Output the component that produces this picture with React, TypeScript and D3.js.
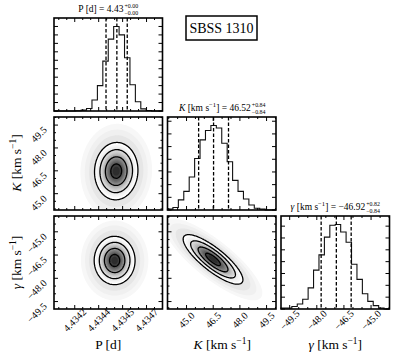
import { useEffect, useRef } from "react";
import * as d3 from "d3";

const WIDTH = 411;
const HEIGHT = 357;
const FONT = "'Liberation Serif', 'Times New Roman', serif";

// panel grid
const COL_X = [54, 167.5, 281];
const ROW_Y = [18, 117, 216];
const PANEL_W = 108.5;
const PANEL_H = 93;

// axis ranges
const P_RANGE = [4.43407, 4.43475];
const K_RANGE = [43.93, 50.03];
const G_RANGE = [-49.98, -43.98];

// ticks
const P_TICKS = [4.4342, 4.43435, 4.4345, 4.43465];
const P_TICK_LABELS = ["4.4342", "4.4344", "4.4345", "4.4347"];
const K_TICKS = [45.0, 46.5, 48.0, 49.5];
const K_TICK_LABELS = ["45.0", "46.5", "48.0", "49.5"];
const G_TICKS = [-49.5, -48.0, -46.5, -45.0];
const G_TICK_LABELS = ["−49.5", "−48.0", "−46.5", "−45.0"];
const MINOR_STEPS = [0.00005, 0.5, 0.5];

// marginal histograms, 20 bins, height relative to the tallest bin
const P_HIST = [0, 0, 0, 0, 0.003, 0.01, 0.03, 0.13, 0.3, 0.59, 0.85, 1.0, 0.9, 0.63, 0.31, 0.11, 0.025, 0.006, 0, 0];
const K_HIST = [0.01, 0.03, 0.12, 0.22, 0.39, 0.61, 0.83, 0.94, 1.0, 0.97, 0.79, 0.57, 0.35, 0.22, 0.13, 0.06, 0.02, 0.01, 0, 0];
const G_HIST = [0.01, 0.01, 0.03, 0.06, 0.115, 0.25, 0.46, 0.64, 0.85, 0.99, 1.0, 0.91, 0.79, 0.53, 0.35, 0.18, 0.09, 0.04, 0.01, 0];
const HIST_TICK_STEP = [0.1, 0.15, 0.14];

// 16th / 50th / 84th percentiles
const P_QUANT = [4.434396, 4.434464, 4.434529];
const K_QUANT = [45.68, 46.52, 47.36];
const G_QUANT = [-47.76, -46.92, -46.1];

// 2-d panels: centre, spread and correlation of the contour ellipses
const PK_CENTER = [4.43446, 46.48];
const PK_SPREAD = [0.000068, 0.94];
const PK_RHO = 0.03;
const PG_CENTER = [4.43445, -46.85];
const PG_SPREAD = [0.000064, 0.78];
const PG_RHO = 0.0;
const KG_CENTER = [46.49, -46.78];
const KG_SPREAD = [0.84, 0.8];
const KG_RHO = -0.82;
const SIGMA_LEVELS = [0.5, 1, 1.5, 2];
const HALO_LEVELS = [3.3, 2.9, 2.5];
const HALO_COLORS = ["#f7f7f7", "#f0f0f0", "#e6e6e6"];

const PARAMS = [
  {
    range: P_RANGE, ticks: P_TICKS, tickLabels: P_TICK_LABELS, hist: P_HIST, quant: P_QUANT,
    title: [{ t: "P [d] = 4.43" }], sup: "+0.00", sub: "−0.00",
    label: [{ t: "P [d]" }],
  },
  {
    range: K_RANGE, ticks: K_TICKS, tickLabels: K_TICK_LABELS, hist: K_HIST, quant: K_QUANT,
    title: [{ t: "K", it: true }, { t: " [km s" }, { t: "−1", sup: true }, { t: "] = 46.52" }], sup: "+0.84", sub: "−0.84",
    label: [{ t: "K", it: true }, { t: " [km s" }, { t: "−1", sup: true }, { t: "]" }],
  },
  {
    range: G_RANGE, ticks: G_TICKS, tickLabels: G_TICK_LABELS, hist: G_HIST, quant: G_QUANT,
    title: [{ t: "γ", it: true }, { t: " [km s" }, { t: "−1", sup: true }, { t: "] = −46.92" }], sup: "+0.82", sub: "−0.84",
    label: [{ t: "γ", it: true }, { t: " [km s" }, { t: "−1", sup: true }, { t: "]" }],
  },
];

const BLOBS = [
  { row: 1, col: 0, center: PK_CENTER, spread: PK_SPREAD, rho: PK_RHO },
  { row: 2, col: 0, center: PG_CENTER, spread: PG_SPREAD, rho: PG_RHO },
  { row: 2, col: 1, center: KG_CENTER, spread: KG_SPREAD, rho: KG_RHO },
];

function rich(parent, pieces, size) {
  const t = parent.append("text").attr("font-size", size).attr("fill", "#000")
    .style("font-family", FONT).style("white-space", "pre");
  let shifted = false;
  pieces.forEach((p) => {
    const ts = t.append("tspan").text(p.t);
    if (p.it) ts.attr("font-style", "italic");
    if (p.sup) {
      ts.attr("font-size", size * 0.7).attr("dy", -size * 0.38);
      shifted = true;
    } else if (shifted) {
      ts.attr("dy", size * 0.38);
      shifted = false;
    }
  });
  return t;
}

function drawTicks(g, xs, ys, x0, y0, xMajor, xMinor, yMajor, yMinor) {
  const x1 = x0 + PANEL_W, y1 = y0 + PANEL_H;
  const seg = [];
  xMajor.forEach((v) => { const x = xs(v); seg.push([x, y1, x, y1 - 4], [x, y0, x, y0 + 4]); });
  xMinor.forEach((v) => { const x = xs(v); seg.push([x, y1, x, y1 - 2], [x, y0, x, y0 + 2]); });
  yMajor.forEach((v) => { const y = ys(v); seg.push([x0, y, x0 + 4, y], [x1, y, x1 - 4, y]); });
  yMinor.forEach((v) => { const y = ys(v); seg.push([x0, y, x0 + 2, y], [x1, y, x1 - 2, y]); });
  g.append("g").selectAll("line").data(seg).join("line")
    .attr("x1", (d) => d[0]).attr("y1", (d) => d[1]).attr("x2", (d) => d[2]).attr("y2", (d) => d[3])
    .attr("stroke", "#000").attr("stroke-width", 1);
}

function minorTicks(range, step, majors) {
  const start = Math.ceil(range[0] / step - 1e-9);
  const end = Math.floor(range[1] / step + 1e-9);
  return d3.range(start, end + 1).map((k) => k * step)
    .filter((v) => !majors.some((m) => Math.abs(m - v) < step * 0.01));
}

function CornerPlot() {
  const svgRef = useRef(null);

  useEffect(() => {
    const svg = d3.select(svgRef.current);
    svg.selectAll("*").remove();
    svg.append("rect").attr("width", WIDTH).attr("height", HEIGHT).attr("fill", "#fff");
    const root = svg.append("g").style("font-family", FONT).attr("fill", "#000");
    const defs = root.append("defs");

    const xScaleOf = (j) => d3.scaleLinear().domain(PARAMS[j].range).range([COL_X[j], COL_X[j] + PANEL_W]);
    const yScaleOf = (i) => d3.scaleLinear().domain(PARAMS[i].range).range([ROW_Y[i] + PANEL_H, ROW_Y[i]]);

    // 2-d density panels
    BLOBS.forEach((b, bi) => {
      const xs = xScaleOf(b.col);
      const ys = yScaleOf(b.row);
      const x0 = COL_X[b.col], y0 = ROW_Y[b.row];
      const N = 100;
      const values = new Array(N * N);
      for (let iy = 0; iy < N; iy++) {
        for (let ix = 0; ix < N; ix++) {
          const dx = xs.invert(x0 + ((ix + 0.5) * PANEL_W) / N);
          const dy = ys.invert(y0 + ((iy + 0.5) * PANEL_H) / N);
          const u = (dx - b.center[0]) / b.spread[0];
          const v = (dy - b.center[1]) / b.spread[1];
          const r2 = (u * u - 2 * b.rho * u * v + v * v) / (1 - b.rho * b.rho);
          values[iy * N + ix] = Math.exp(-r2 / 2);
        }
      }
      const proj = d3.geoTransform({
        point(x, y) { this.stream.point(x0 + (x * PANEL_W) / N, y0 + (y * PANEL_H) / N); },
      });
      const path = d3.geoPath(proj);
      const clipId = `clip${bi}`;
      defs.append("clipPath").attr("id", clipId).append("rect")
        .attr("x", x0).attr("y", y0).attr("width", PANEL_W).attr("height", PANEL_H);
      const g = root.append("g").attr("clip-path", `url(#${clipId})`);

      const toT = (r) => Math.exp(-(r * r) / 2);
      const tOuter = toT(2);
      const nBands = 18;
      const bandTs = d3.range(nBands).map((k) => tOuter + ((1 - tOuter) * k) / nBands);
      const shade = d3.scaleLinear().domain([tOuter, 1]).range([0.0, 0.88]);
      const fills = [
        ...HALO_LEVELS.map((r, k) => ({ t: toT(r), c: HALO_COLORS[k] })),
        ...bandTs.map((t, k) => ({ t, c: d3.interpolateGreys(shade(k === 0 ? tOuter : t + (1 - tOuter) / nBands / 2)) })),
      ];
      const gen = d3.contours().size([N, N]);
      fills.forEach((f) => {
        g.append("path").attr("d", path(gen.contour(values, f.t))).attr("fill", f.c).attr("stroke", "none");
      });
      SIGMA_LEVELS.forEach((r) => {
        g.append("path").attr("d", path(gen.contour(values, toT(r))))
          .attr("fill", "none").attr("stroke", "#000").attr("stroke-width", 1.3).attr("stroke-linejoin", "round");
      });
    });

    // marginal histograms
    PARAMS.forEach((p, i) => {
      const xs = xScaleOf(i);
      const x0 = COL_X[i], y0 = ROW_Y[i];
      const ys = d3.scaleLinear().domain([0, 1.1]).range([y0 + PANEL_H, y0]);
      const edges = d3.range(p.hist.length + 1).map((k) => p.range[0] + ((p.range[1] - p.range[0]) * k) / p.hist.length);
      const pts = [[edges[0], 0]];
      p.hist.forEach((h, k) => pts.push([edges[k], h]));
      pts.push([edges[edges.length - 1], p.hist[p.hist.length - 1]]);
      pts.push([edges[edges.length - 1], 0]);
      const line = d3.line().x((d) => xs(d[0])).y((d) => ys(d[1])).curve(d3.curveStepAfter);
      root.append("path").attr("d", line(pts)).attr("fill", "none").attr("stroke", "#111").attr("stroke-width", 1.1);
      root.append("g").selectAll("line").data(p.quant).join("line")
        .attr("x1", (d) => xs(d)).attr("x2", (d) => xs(d))
        .attr("y1", y0).attr("y2", y0 + PANEL_H)
        .attr("stroke", "#000").attr("stroke-width", 1.3).attr("stroke-dasharray", "3.5,2");

      const yt = d3.range(0, 1.1, HIST_TICK_STEP[i]);
      drawTicks(root, xs, ys, x0, y0, p.ticks, minorTicks(p.range, MINOR_STEPS[i], p.ticks), yt, []);
      root.append("rect").attr("x", x0).attr("y", y0).attr("width", PANEL_W).attr("height", PANEL_H)
        .attr("fill", "none").attr("stroke", "#000").attr("stroke-width", 1.6);

      // title with stacked errors
      const size = 9.5;
      const grp = root.append("g");
      const main = rich(grp, p.title, size);
      const bb = main.node().getBBox();
      const sx = bb.x + bb.width + 0.8;
      grp.append("text").attr("x", sx).attr("y", -size * 0.4).attr("font-size", size * 0.62)
        .attr("fill", "#000").style("font-family", FONT).text(p.sup);
      grp.append("text").attr("x", sx).attr("y", size * 0.3).attr("font-size", size * 0.62)
        .attr("fill", "#000").style("font-family", FONT).text(p.sub);
      const b2 = grp.node().getBBox();
      grp.attr("transform", `translate(${x0 + PANEL_W / 2 - (b2.x + b2.width / 2)},${y0 - 6})`);
    });

    // 2-d panel frames and ticks
    BLOBS.forEach((b) => {
      const xs = xScaleOf(b.col);
      const ys = yScaleOf(b.row);
      const px = PARAMS[b.col], py = PARAMS[b.row];
      const x0 = COL_X[b.col], y0 = ROW_Y[b.row];
      drawTicks(root, xs, ys, x0, y0, px.ticks, minorTicks(px.range, MINOR_STEPS[b.col], px.ticks),
        py.ticks, minorTicks(py.range, MINOR_STEPS[b.row], py.ticks));
      root.append("rect").attr("x", x0).attr("y", y0).attr("width", PANEL_W).attr("height", PANEL_H)
        .attr("fill", "none").attr("stroke", "#000").attr("stroke-width", 1.6);
    });

    // bottom-row x tick labels and axis labels
    PARAMS.forEach((p, j) => {
      const xs = xScaleOf(j);
      const bottom = ROW_Y[2] + PANEL_H;
      root.append("g").selectAll("text").data(p.ticks).join("text")
        .attr("transform", (d) => `translate(${xs(d)},${bottom + 11}) rotate(-45)`)
        .attr("text-anchor", "middle").attr("dominant-baseline", "central")
        .attr("fill", "#000").style("font-family", FONT)
        .attr("font-size", 10).text((_, k) => p.tickLabels[k]);
      const g = root.append("g").attr("transform", `translate(${COL_X[j] + PANEL_W / 2},344)`);
      const t = rich(g, p.label, 13.5);
      const bb = t.node().getBBox();
      t.attr("transform", `translate(${-(bb.x + bb.width / 2)},${-(bb.y + bb.height / 2)})`);
    });

    // left-column y tick labels and axis labels
    [1, 2].forEach((i) => {
      const p = PARAMS[i];
      const ys = yScaleOf(i);
      const left = COL_X[0];
      root.append("g").selectAll("text").data(p.ticks).join("text")
        .attr("transform", (d) => `translate(${left - 9},${ys(d) + 3}) rotate(-45)`)
        .attr("text-anchor", "end").attr("dominant-baseline", "central")
        .attr("fill", "#000").style("font-family", FONT)
        .attr("font-size", 10).text((_, k) => p.tickLabels[k]);
      const g = root.append("g").attr("transform", `translate(16,${ROW_Y[i] + PANEL_H / 2}) rotate(-90)`);
      const t = rich(g, p.label, 13.5);
      const bb = t.node().getBBox();
      t.attr("transform", `translate(${-(bb.x + bb.width / 2)},${-(bb.y + bb.height / 2)})`);
    });

    // object name box
    const nameG = root.append("g");
    nameG.append("rect").attr("x", 186).attr("y", 16).attr("width", 71).attr("height", 24)
      .attr("fill", "#fff").attr("stroke", "#000").attr("stroke-width", 1.5);
    nameG.append("text").attr("x", 221.5).attr("y", 28).attr("text-anchor", "middle")
      .attr("dominant-baseline", "central").attr("fill", "#000").style("font-family", FONT)
      .attr("font-size", 14).text("SBSS 1310");
  }, []);

  return (
    <svg ref={svgRef} width={WIDTH} height={HEIGHT}
      style={{ position: "absolute", left: 0, top: 0, display: "block" }} />
  );
}

export default function App() {
  return <CornerPlot />;
}
